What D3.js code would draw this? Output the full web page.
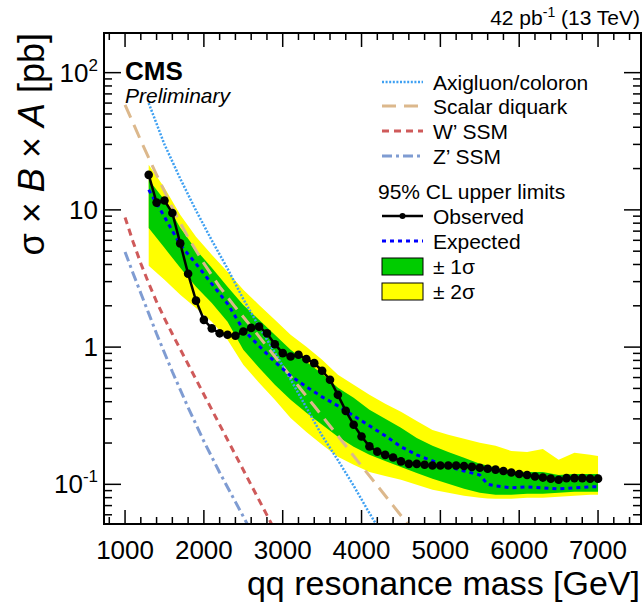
<!DOCTYPE html>
<html lang="en">
  <head>
    <meta charset="utf-8">
    <title>Dijet resonance limits</title>
    <script type="text/javascript" src="https://cdn.jsdelivr.net/npm/d3@7/dist/d3.min.js"></script>
    <style>
      body { margin: 0; background: white; }
      text { font-family: "Liberation Sans", Arial, Helvetica, sans-serif; }
    </style>
  </head>

  <body>
    <script>
      // observed limit, one point every 100 GeV
      var massObs = [1300,1400,1500,1600,1700,1800,1900,2000,2100,2200,2300,2400,2500,2600,2700,2800,2900,3000,
                     3100,3200,3300,3400,3500,3600,3700,3800,3900,4000,4100,4200,4300,4400,4500,4600,4700,4800,
                     4900,5000,5100,5200,5300,5400,5500,5600,5700,5800,5900,6000,6100,6200,6300,6400,6500,6600,
                     6700,6800,6900,7000]
      var observed = [18.0,11.3,11.7,9.5,5.7,3.42,2.18,1.58,1.37,1.26,1.23,1.21,1.30,1.38,1.41,1.26,1.05,0.904,
                      0.854,0.879,0.818,0.764,0.672,0.578,0.449,0.343,0.272,0.223,0.189,0.173,0.164,0.157,0.147,0.141,0.141,0.139,
                      0.137,0.137,0.137,0.137,0.136,0.134,0.132,0.130,0.128,0.125,0.122,0.119,0.117,0.114,0.112,0.110,0.108,0.111,
                      0.111,0.111,0.110,0.110]

      // expected limit and the 1 and 2 sigma bands
      var massExp = [1300,1500,1700,1900,2100,2300,2500,2700,2900,3100,3300,3500,3700,3900,4100,4300,4500,4700,
                     4900,5100,5300,5500,5600,5700,5900,6100,6300,6500,6700,6900,7000]
      var expected = [14.0,8.91,5.57,4.05,2.89,2.07,1.34,1.02,0.781,0.618,0.514,0.434,0.373,0.316,0.267,0.226,0.188,0.164,
                      0.148,0.134,0.125,0.117,0.100,0.0975,0.0943,0.0959,0.0943,0.0927,0.0943,0.0959,0.0959]
      var sigma1Up = [16.6,11.8,7.41,5.12,3.78,2.75,2.03,1.58,1.23,0.956,0.781,0.639,0.505,0.427,0.349,0.300,0.258,0.218,
                      0.191,0.172,0.156,0.141,0.137,0.132,0.125,0.123,0.123,0.117,0.119,0.119,0.119]
      var sigma1Down = [7.38,5.29,3.78,2.75,2.10,1.53,0.956,0.706,0.531,0.413,0.332,0.272,0.222,0.188,0.164,0.148,0.134,0.121,
                        0.110,0.1008,0.0927,0.0867,0.0853,0.0839,0.0839,0.0853,0.0853,0.0867,0.0882,0.0882,0.0882]
      var sigma2Up = [21.3,14.5,9.21,6.37,4.71,3.54,2.62,2.03,1.58,1.23,1.005,0.808,0.628,0.531,0.449,0.386,0.338,0.290,
                      0.249,0.230,0.215,0.201,0.196,0.191,0.175,0.172,0.181,0.151,0.170,0.164,0.161]
      var sigma2Down = [3.91,3.09,2.41,1.93,1.53,1.13,0.743,0.549,0.413,0.305,0.241,0.194,0.159,0.139,0.123,0.115,0.108,0.0992,
                        0.0912,0.0867,0.0825,0.0797,0.079,0.0784,0.0784,0.0797,0.0797,0.0811,0.0825,0.0839,0.0839]

      // theory cross sections
      var massAxi = [1300,1500,1700,1900,2100,2300,2500,2700,2900,3100,3300,3500,3700,3900,4100,4300]
      var axigluon = [60,30,16.9,9.9,6.0,3.73,2.24,1.41,0.912,0.582,0.363,0.226,0.150,0.0977,0.0617,0.0398]
      var massDiq = [1000,1200,1400,1600,1800,2000,2200,2400,2600,2800,3000,3200,3400,3600,3800,4000,4200,4400,4600,4700]
      var diquark = [58.3,32.0,18.0,10.35,6.31,4.07,2.75,1.95,1.41,1.01,0.724,0.519,0.372,0.266,0.191,0.136,0.0977,0.0700,0.0501,0.0425]
      var massW = [1000,1100,1200,1300,1400,1500,1600,1800,2000,2200,2400,2600,2800,3000]
      var wprime = [8.81,5.89,4.07,2.92,2.14,1.62,1.245,0.750,0.452,0.272,0.164,0.0989,0.0596,0.0359]
      var massZ = [1000,1100,1200,1300,1400,1600,1800,2000,2200,2400,2600,2800]
      var zprime = [4.94,3.47,2.47,1.76,1.25,0.661,0.363,0.206,0.122,0.0745,0.0455,0.028]

      var xMajor = [1000,2000,3000,4000,5000,6000,7000]
      var yMajor = [0.1,1,10,100]
      var yLabels = [["10","-1"],["1",""],["10",""],["10","2"]]

      var width = 644, height = 604
      // frame edges (note: "top" is a reserved window property, so use other names)
      var frameL = 104, frameR = 641, frameT = 33, frameB = 524

      var svg = d3.select('body').append('svg').attr('width', width).attr('height', height)

      var x = d3.scaleLinear().domain([733, 7545]).range([frameL, frameR])
      var y = d3.scaleLog().domain([0.0514, 194.5]).range([frameB, frameT])

      svg.append('clipPath').attr('id', 'plot').append('rect')
        .attr('x', frameL).attr('y', frameT).attr('width', frameR - frameL).attr('height', frameB - frameT)

      var g = svg.append('g').attr('clip-path', 'url(#plot)')

      // bands
      var bandArea = function(up, down) {
        return d3.area()
          .x(function(d, i) { return x(massExp[i]) })
          .y0(function(d, i) { return y(down[i]) })
          .y1(function(d, i) { return y(up[i]) })
      }
      g.append('path').datum(massExp).attr('d', bandArea(sigma2Up, sigma2Down)).attr('fill', '#ffff00')
      g.append('path').datum(massExp).attr('d', bandArea(sigma1Up, sigma1Down)).attr('fill', '#00cc00')

      function drawLine(xs, ys, color, w, dash) {
        var line = d3.line()
          .x(function(d, i) { return x(xs[i]) })
          .y(function(d, i) { return y(ys[i]) })
        g.append('path').datum(ys).attr('d', line)
          .attr('fill', 'none').attr('stroke', color).attr('stroke-width', w)
          .attr('stroke-dasharray', dash)
      }

      drawLine(massAxi, axigluon, '#3ea0f2', 2.5, '2,1.6')
      drawLine(massDiq, diquark, '#dcb88c', 3, '14,8')
      drawLine(massW, wprime, '#cf5a5a', 3, '7,5')
      drawLine(massZ, zprime, '#7f9cd2', 3, '10,4,3,4')
      drawLine(massExp, expected, '#0000ff', 3, '4,4')
      drawLine(massObs, observed, '#000000', 2.5, null)

      g.selectAll('circle.obs').data(observed).enter().append('circle')
        .attr('class', 'obs')
        .attr('cx', function(d, i) { return x(massObs[i]) })
        .attr('cy', function(d) { return y(d) })
        .attr('r', 4.3)
        .attr('fill', 'black')

      // frame and ticks
      svg.append('rect').attr('x', frameL).attr('y', frameT).attr('width', frameR - frameL).attr('height', frameB - frameT)
        .attr('fill', 'none').attr('stroke', 'black').attr('stroke-width', 2)

      var xMinor = x.ticks(40).filter(function(v) { return v % 200 == 0 })
      xMinor.forEach(function(v) {
        var len = xMajor.indexOf(v) >= 0 ? 14 : 7
        svg.append('line').attr('x1', x(v)).attr('x2', x(v)).attr('y1', frameB).attr('y2', frameB - len)
          .attr('stroke', 'black').attr('stroke-width', 1.5)
        svg.append('line').attr('x1', x(v)).attr('x2', x(v)).attr('y1', frameT).attr('y2', frameT + len)
          .attr('stroke', 'black').attr('stroke-width', 1.5)
      })

      y.ticks().forEach(function(v) {
        var major = yMajor.some(function(m) { return Math.abs(m - v) / m < 1e-6 })
        var len = major ? 17 : 8
        svg.append('line').attr('x1', frameL).attr('x2', frameL + len).attr('y1', y(v)).attr('y2', y(v))
          .attr('stroke', 'black').attr('stroke-width', 1.5)
        svg.append('line').attr('x1', frameR).attr('x2', frameR - len).attr('y1', y(v)).attr('y2', y(v))
          .attr('stroke', 'black').attr('stroke-width', 1.5)
      })

      // tick labels
      svg.selectAll('text.xlab').data(xMajor).enter().append('text')
        .attr('class', 'xlab')
        .attr('x', function(d) { return x(d) })
        .attr('y', 559)
        .attr('text-anchor', 'middle')
        .attr('font-size', 26)
        .text(function(d) { return d })

      yMajor.forEach(function(v, i) {
        var t = svg.append('text').attr('x', 98).attr('y', y(v) + 9).attr('text-anchor', 'end').attr('font-size', 26)
        t.append('tspan').text(yLabels[i][0])
        if (yLabels[i][1]) {
          t.append('tspan').attr('dy', -11).attr('font-size', 17).text(yLabels[i][1])
        }
      })

      // axis titles
      svg.append('text').attr('x', 640).attr('y', 595).attr('text-anchor', 'end').attr('font-size', 34)
        .text('qq resonance mass [GeV]')

      var yt = svg.append('text').attr('transform', 'translate(44,33) rotate(-90)')
        .attr('text-anchor', 'end').attr('font-size', 36)
      yt.append('tspan').text('\u03c3 \u00d7 ')
      yt.append('tspan').attr('font-style', 'italic').text('B')
      yt.append('tspan').text(' \u00d7 ')
      yt.append('tspan').attr('font-style', 'italic').text('A')
      yt.append('tspan').text(' [pb]')

      // lumi label
      var lumi = svg.append('text').attr('x', 640).attr('y', 25).attr('text-anchor', 'end').attr('font-size', 21)
      lumi.append('tspan').text('42 pb')
      lumi.append('tspan').attr('dy', -8).attr('font-size', 14).text('-1')
      lumi.append('tspan').attr('dy', 8).text(' (13 TeV)')

      svg.append('text').attr('x', 125).attr('y', 80).attr('font-size', 26).attr('font-weight', 'bold').text('CMS')
      svg.append('text').attr('x', 125).attr('y', 103).attr('font-size', 21).attr('font-style', 'italic').text('Preliminary')

      // legend
      var legendLines = [
        {name: 'Axigluon/coloron', color: '#3ea0f2', w: 2.5, dash: '2,1.6', y: 82},
        {name: 'Scalar diquark', color: '#dcb88c', w: 3, dash: '14,8', y: 106},
        {name: 'W\u2019 SSM', color: '#cf5a5a', w: 3, dash: '7,5', y: 131},
        {name: 'Z\u2019 SSM', color: '#7f9cd2', w: 3, dash: '10,4,3,4', y: 156},
        {name: 'Observed', color: '#000000', w: 2.5, dash: null, y: 216},
        {name: 'Expected', color: '#0000ff', w: 3, dash: '4,4', y: 241}
      ]
      legendLines.forEach(function(d) {
        svg.append('line').attr('x1', 382).attr('x2', 423).attr('y1', d.y).attr('y2', d.y)
          .attr('stroke', d.color).attr('stroke-width', d.w).attr('stroke-dasharray', d.dash)
        svg.append('text').attr('x', 433).attr('y', d.y + 7.5).attr('font-size', 21).text(d.name)
      })
      svg.append('circle').attr('cx', 402.5).attr('cy', 216).attr('r', 3).attr('fill', 'black')
      svg.append('text').attr('x', 378).attr('y', 199).attr('font-size', 21).text('95% CL upper limits')

      var legendBoxes = [
        {name: '\u00b1 1\u03c3', color: '#00cc00', y: 258},
        {name: '\u00b1 2\u03c3', color: '#ffff00', y: 283}
      ]
      legendBoxes.forEach(function(d) {
        svg.append('rect').attr('x', 382).attr('y', d.y).attr('width', 41).attr('height', 17)
          .attr('fill', d.color).attr('stroke', 'black').attr('stroke-width', 1)
        svg.append('text').attr('x', 433).attr('y', d.y + 16).attr('font-size', 21).text(d.name)
      })
    </script>
  </body>
</html>
